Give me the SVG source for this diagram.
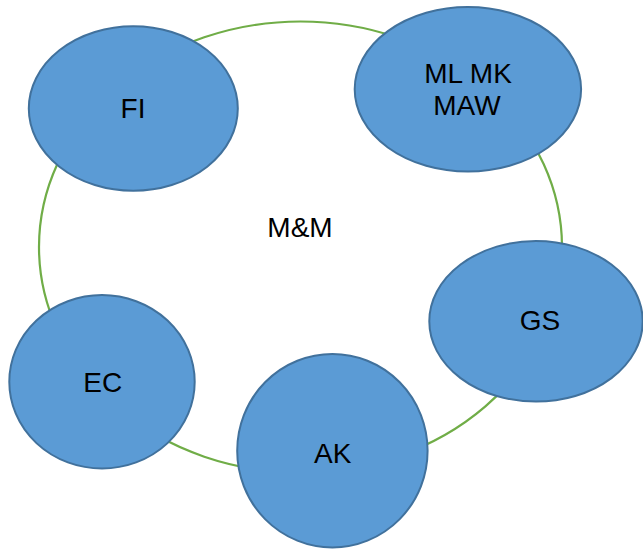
<svg xmlns="http://www.w3.org/2000/svg" width="643" height="549" viewBox="0 0 643 549">
<style>
.node{fill:#5B9BD5;stroke:#41719C;stroke-width:2}
.ring{fill:none;stroke:#70AD47;stroke-width:2.2}
text{font-family:"Liberation Sans",Arial,sans-serif;font-size:28px;fill:#000;text-anchor:middle}
</style>
<rect width="643" height="549" fill="#fff"/>
<g id="connectors">
<ellipse id="ring" class="ring" cx="300.5" cy="247" rx="261.5" ry="225.5"/>
</g>
<g id="center"><text x="300" y="237.3">M&amp;M</text></g>
<g id="FI"><ellipse class="node" cx="133.3" cy="108.5" rx="104.5" ry="82.3"/><text x="133" y="118.3">FI</text></g>
<g id="MLMKMAW"><ellipse class="node" cx="467.9" cy="89.3" rx="113.2" ry="82.3"/><text x="468" y="83.3">ML MK</text><text x="467" y="115">MAW</text></g>
<g id="GS"><ellipse class="node" cx="536" cy="321.3" rx="106.7" ry="80.3"/><text x="540" y="330">GS</text></g>
<g id="EC"><ellipse class="node" cx="102" cy="381.8" rx="92.7" ry="86.7"/><text x="102.7" y="391.7">EC</text></g>
<g id="AK"><ellipse class="node" cx="332.4" cy="450.7" rx="95.2" ry="96.7"/><text x="332.7" y="463.3">AK</text></g>
</svg>
